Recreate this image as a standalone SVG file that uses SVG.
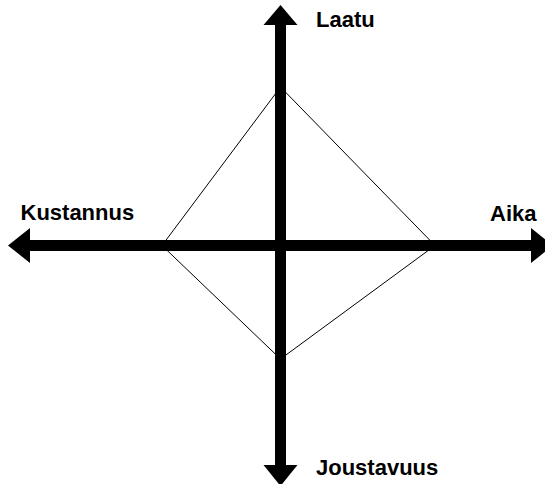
<svg xmlns="http://www.w3.org/2000/svg" width="545" height="484" viewBox="0 0 545 484">
<style>
.lbl{font-family:"Liberation Sans",Arial,sans-serif;font-weight:bold;font-size:22px;fill:#000}
.thin{fill:none;stroke:#000;stroke-width:1}
.axis{fill:#000}
</style>
<rect width="545" height="484" fill="#fff"/>
<g id="connectors">
<polygon class="thin" points="280.5,87 435,245.5 280.5,359 162,245.5"/>
<rect class="axis" x="275" y="24" width="11" height="442"/>
<rect class="axis" x="29" y="240" width="503" height="11"/>
<polygon class="axis" points="280.5,5 297.5,25 263.5,25"/>
<polygon class="axis" points="280.5,486 297.5,465 263.5,465"/>
<polygon class="axis" points="8,245.5 30,228 30,263"/>
<polygon class="axis" points="553,245.5 531,228 531,263"/>
</g>
<g id="laatu"><text class="lbl" x="316" y="27">Laatu</text></g>
<g id="kustannus"><text class="lbl" x="20.5" y="220">Kustannus</text></g>
<g id="aika"><text class="lbl" x="490" y="221">Aika</text></g>
<g id="joustavuus"><text class="lbl" x="316" y="475">Joustavuus</text></g>
</svg>
